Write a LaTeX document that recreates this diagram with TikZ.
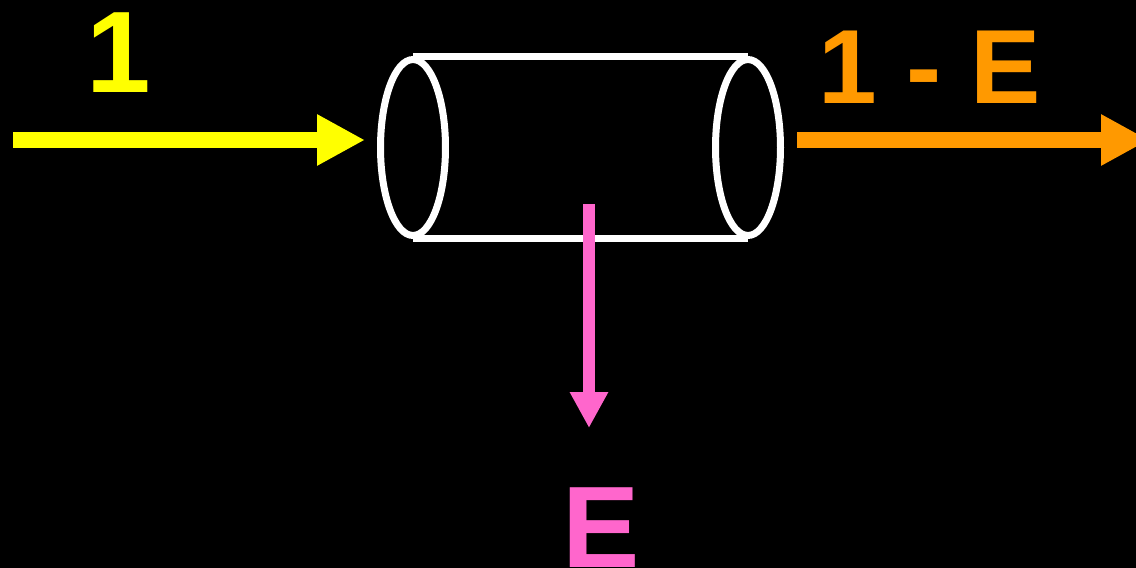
\documentclass[tikz,border=0pt]{standalone}
\usepackage{fontspec}
\setmainfont{Liberation Sans}
\usetikzlibrary{arrows.meta, positioning, shapes.geometric}
\definecolor{flowYellow}{RGB}{255,255,0}
\definecolor{flowOrange}{RGB}{255,153,0}
\definecolor{flowPink}{RGB}{255,102,204}

\begin{document}
\begin{tikzpicture}[
        x=0.02cm, y=-0.02cm,
        endNode/.style={ellipse, draw=white, line width=0.14cm, inner sep=0pt, minimum width=1.3cm, minimum height=3.52cm},
        bigLabel/.style={font=\bfseries\fontsize{66}{66}\selectfont, inner sep=0pt, anchor=base},
        midLabel/.style={font=\bfseries\fontsize{60}{60}\selectfont, inner sep=0pt, anchor=base},
        wideArrow/.style={line width=0.32cm, -{Triangle[length=0.96cm, width=0.96cm]}},
        thinArrow/.style={line width=0.24cm, -{Triangle[length=0.72cm, width=0.72cm]}}
    ]
        \fill[black] (0,0) rectangle (1136,568);
        \useasboundingbox (0,0) rectangle (1136,568);

        % tube
        \node[endNode] (leftEnd) at (413,147.5) {};
        \node[endNode] (rightEnd) at (748,147.5) {};
        \draw[white, line width=0.14cm] (leftEnd.north) -- (rightEnd.north);
        \draw[white, line width=0.14cm] (leftEnd.south) -- (rightEnd.south);

        % labels
        \node[bigLabel, text=flowYellow] (inLabel) at (119,92) {1};
        \node[midLabel, text=flowOrange] (outLabel) at (930,103) {1 - E};
        \node[bigLabel, text=flowPink] (lossLabel) at (601,567) {E};

        % flows
        \coordinate (inStart) at (13,140);
        \coordinate (inEnd) at (365,140);
        \coordinate (outStart) at (797,140);
        \coordinate (outEnd) at (1149,140);
        \coordinate (lossStart) at (589,204);
        \coordinate (lossEnd) at (589,428);
        \draw[wideArrow, flowYellow] (inStart) -- (inEnd);
        \draw[wideArrow, flowOrange] (outStart) -- (outEnd);
        \draw[thinArrow, flowPink] (lossStart) -- (lossEnd);
    \end{tikzpicture}
\end{document}
